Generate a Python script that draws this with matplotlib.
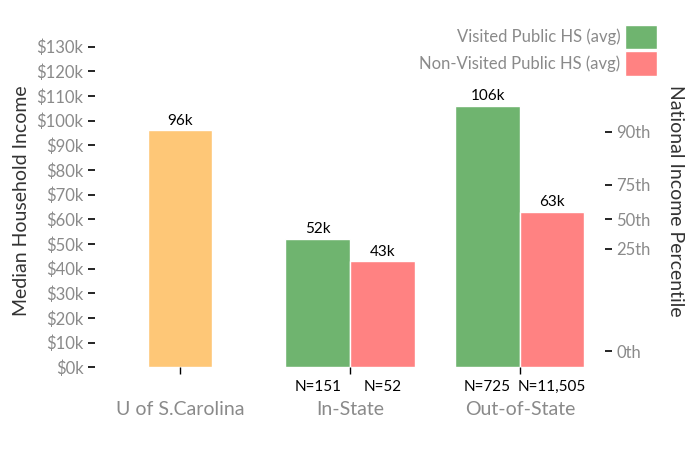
import matplotlib
matplotlib.use("Agg")
import matplotlib.pyplot as plt
from matplotlib.patches import Patch

plt.rcParams['font.family'] = ['Lato', 'DejaVu Sans']

# donnees
categories = ["U of S.Carolina", "In-State", "Out-of-State"]
school_income = [96000]
visited = [52000, 106000]
non_visited = [43000, 63000]
visited_n = ["N=151", "N=725"]
non_visited_n = ["N=52", "N=11,505"]
pct_values = [6500, 48000, 60000, 74000, 95500]
pct_labels = ["0th", "25th", "50th", "75th", "90th"]
income_ticks = list(range(0, 140000, 10000))

ORANGE = "#fec777"
GREEN = "#6fb46f"
RED = "#ff8282"
GREY = "#8a8a8a"
W = 0.38

fig = plt.figure(figsize=(7, 4.5), dpi=100)
ax = fig.add_axes([0.136, 0.184, 0.728, 0.74])

ax.bar([0], school_income, width=W, color=ORANGE, edgecolor="white", linewidth=1)
# vert a gauche du centre, rouge a droite
ax.bar([1 - W, 2 - W], visited, width=W, align="edge", color=GREEN, edgecolor="white", linewidth=1)
ax.bar([1, 2], non_visited, width=W, align="edge", color=RED, edgecolor="white", linewidth=1)

def lab(v):
    return "%dk" % round(v / 1000)

ax.text(0, school_income[0] + 1000, lab(school_income[0]), ha="center", va="bottom", fontsize=11)
for i, (v, nv) in enumerate(zip(visited, non_visited)):
    x = i + 1
    ax.text(x - W / 2, v + 1000, lab(v), ha="center", va="bottom", fontsize=11)
    ax.text(x + W / 2, nv + 1000, lab(nv), ha="center", va="bottom", fontsize=11)
    ax.text(x - W / 2, -5000, visited_n[i], ha="center", va="top", fontsize=11)
    ax.text(x + W / 2, -5000, non_visited_n[i], ha="center", va="top", fontsize=11)

ax.set_xlim(-0.5, 2.5)
ax.set_ylim(0, 135000)
ax.set_xticks([0, 1, 2])
ax.set_xticklabels(categories, color=GREY, fontsize=14)
ax.tick_params(axis="x", length=5, pad=19, width=1)
ax.set_yticks(income_ticks)
ax.set_yticklabels(["$%dk" % (t // 1000) for t in income_ticks], color=GREY, fontsize=12)
ax.tick_params(axis="y", length=5, width=1.2)
ax.set_ylabel("Median Household Income", fontsize=14, color="#333333", labelpad=5)
for s in ax.spines.values():
    s.set_visible(False)

ax2 = ax.twinx()
ax2.set_ylim(ax.get_ylim())
ax2.set_yticks(pct_values)
ax2.set_yticklabels(pct_labels, color=GREY, fontsize=12)
ax2.tick_params(axis="y", length=5, width=1.2)
ax2.set_ylabel("National Income Percentile", fontsize=14, color="#333333", rotation=-90, labelpad=24)
for s in ax2.spines.values():
    s.set_visible(False)

handles = [Patch(facecolor=GREEN, edgecolor="white"), Patch(facecolor=RED, edgecolor="white")]
fig.legend(handles, ["Visited Public HS (avg)", "Non-Visited Public HS (avg)"],
           loc="upper right", bbox_to_anchor=(0.948, 0.96), frameon=False, markerfirst=False,
           fontsize=12, labelcolor=GREY, handlelength=1.9, handleheight=1.9, handletextpad=0.3,
           labelspacing=0.1, borderaxespad=0)

plt.savefig("out.png", dpi=100)
